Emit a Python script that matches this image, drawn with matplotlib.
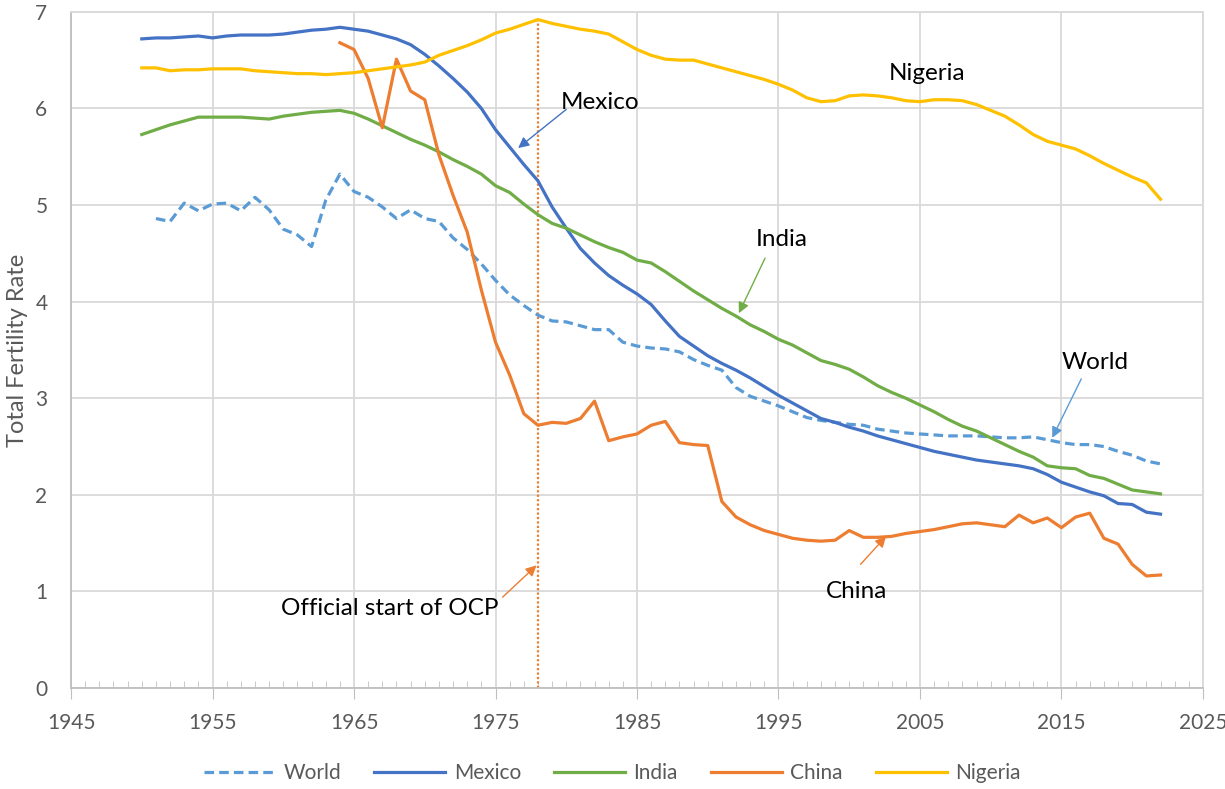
import matplotlib
matplotlib.use("Agg")
import matplotlib.pyplot as plt
from matplotlib.ticker import MultipleLocator

plt.rcParams["font.family"] = ["Lato", "DejaVu Sans"]

# ---- data ----
years = list(range(1950, 2023))

world_years = list(range(1951, 2023))
world = [4.86, 4.83, 5.02, 4.94, 5.01, 5.02, 4.94, 5.08, 4.95, 4.75,
         4.69, 4.57, 5.05, 5.32, 5.14, 5.08, 4.98, 4.86, 4.95, 4.86,
         4.83, 4.66, 4.54, 4.39, 4.22, 4.07, 3.96, 3.86, 3.80, 3.79,
         3.75, 3.71, 3.71, 3.58, 3.54, 3.52, 3.51, 3.48, 3.40, 3.34,
         3.29, 3.11, 3.02, 2.97, 2.92, 2.86, 2.80, 2.77, 2.75, 2.73,
         2.72, 2.68, 2.66, 2.64, 2.63, 2.62, 2.61, 2.61, 2.61, 2.60,
         2.59, 2.59, 2.60, 2.57, 2.54, 2.52, 2.52, 2.50, 2.45, 2.41,
         2.35, 2.32]

mexico = [6.72, 6.73, 6.73, 6.74, 6.75, 6.73, 6.75, 6.76, 6.76, 6.76,
          6.77, 6.79, 6.81, 6.82, 6.84, 6.82, 6.80, 6.76, 6.72, 6.66,
          6.56, 6.44, 6.31, 6.17, 6.00, 5.78, 5.60, 5.42, 5.25, 4.98,
          4.76, 4.55, 4.40, 4.27, 4.17, 4.08, 3.97, 3.80, 3.64, 3.54,
          3.44, 3.36, 3.29, 3.21, 3.12, 3.03, 2.95, 2.87, 2.79, 2.75,
          2.70, 2.66, 2.61, 2.57, 2.53, 2.49, 2.45, 2.42, 2.39, 2.36,
          2.34, 2.32, 2.30, 2.27, 2.21, 2.13, 2.08, 2.03, 1.99, 1.91,
          1.90, 1.82, 1.80]

india = [5.73, 5.78, 5.83, 5.87, 5.91, 5.91, 5.91, 5.91, 5.90, 5.89,
         5.92, 5.94, 5.96, 5.97, 5.98, 5.95, 5.89, 5.82, 5.75, 5.68,
         5.62, 5.55, 5.47, 5.40, 5.32, 5.20, 5.13, 5.01, 4.90, 4.81,
         4.76, 4.69, 4.62, 4.56, 4.51, 4.43, 4.40, 4.31, 4.21, 4.11,
         4.02, 3.93, 3.85, 3.76, 3.69, 3.61, 3.55, 3.47, 3.39, 3.35,
         3.30, 3.22, 3.13, 3.06, 3.00, 2.93, 2.86, 2.78, 2.71, 2.66,
         2.59, 2.52, 2.45, 2.39, 2.30, 2.28, 2.27, 2.20, 2.17, 2.11,
         2.05, 2.03, 2.01]

china_years = list(range(1964, 2023))
china = [6.68, 6.61, 6.31, 5.80, 6.51, 6.18, 6.09, 5.52, 5.10, 4.72,
         4.12, 3.58, 3.24, 2.84, 2.72, 2.75, 2.74, 2.79, 2.97, 2.56,
         2.60, 2.63, 2.72, 2.76, 2.54, 2.52, 2.51, 1.93, 1.77, 1.69,
         1.63, 1.59, 1.55, 1.53, 1.52, 1.53, 1.63, 1.56, 1.56, 1.57,
         1.60, 1.62, 1.64, 1.67, 1.70, 1.71, 1.69, 1.67, 1.79, 1.71,
         1.76, 1.66, 1.77, 1.81, 1.55, 1.49, 1.28, 1.16, 1.17]

nigeria = [6.42, 6.42, 6.39, 6.40, 6.40, 6.41, 6.41, 6.41, 6.39, 6.38,
           6.37, 6.36, 6.36, 6.35, 6.36, 6.37, 6.39, 6.41, 6.43, 6.45,
           6.48, 6.55, 6.60, 6.65, 6.71, 6.78, 6.82, 6.87, 6.92, 6.88,
           6.85, 6.82, 6.80, 6.77, 6.69, 6.61, 6.55, 6.51, 6.50, 6.50,
           6.46, 6.42, 6.38, 6.34, 6.30, 6.25, 6.19, 6.11, 6.07, 6.08,
           6.13, 6.14, 6.13, 6.11, 6.08, 6.07, 6.09, 6.09, 6.08, 6.04,
           5.98, 5.92, 5.83, 5.73, 5.66, 5.62, 5.58, 5.51, 5.43, 5.36,
           5.29, 5.23, 5.06]

ocp_year = 1978
ocp_top = 6.92
x_ticks = list(range(1945, 2026, 10))

C_WORLD = "#5b9bd5"
C_MEX = "#4472c4"
C_IND = "#70ad47"
C_CHN = "#ed7d31"
C_NGA = "#ffc000"
GRID = "#d9d9d9"
TXT = "#595959"

fig = plt.figure(figsize=(12.25, 7.89), dpi=100)
ax = fig.add_axes([0.058, 0.128, 0.924, 0.857])

lw = 2.3
ax.plot(world_years, world, color=C_WORLD, lw=lw, ls=(0, (3, 1.6)), label="World")
ax.plot(years, mexico, color=C_MEX, lw=lw, label="Mexico")
ax.plot(years, india, color=C_IND, lw=lw, label="India")
ax.plot(china_years, china, color=C_CHN, lw=lw, label="China")
ax.plot(years, nigeria, color=C_NGA, lw=lw, label="Nigeria")

# official start of one-child policy
ax.plot([ocp_year, ocp_year], [0, ocp_top], color=C_CHN, lw=1.6, ls=(0, (1, 1)), zorder=1)

ax.set_xlim(1945, 2025)
ax.set_ylim(0, 7)
ax.set_xticks(x_ticks)
ax.xaxis.set_minor_locator(MultipleLocator(1))
ax.yaxis.set_major_locator(MultipleLocator(1))
ax.grid(True, which="major", color=GRID, lw=1.3)
ax.set_axisbelow(True)

for s in ("top", "right"):
    ax.spines[s].set_color(GRID)
    ax.spines[s].set_linewidth(1.3)
for s in ("left", "bottom"):
    ax.spines[s].set_color("#bfbfbf")
    ax.spines[s].set_linewidth(1.3)

ax.tick_params(axis="x", which="major", direction="out", length=8, color="#bfbfbf",
               labelsize=15, labelcolor=TXT, pad=10)
ax.tick_params(axis="x", which="minor", direction="in", length=5, color="#bfbfbf")
ax.tick_params(axis="y", length=0, labelsize=15, labelcolor=TXT, pad=17)
ax.set_ylabel("Total Fertility Rate", fontsize=17, color=TXT, labelpad=5)

# annotations
def note(text, xy_text, tip=None, tail=None, color="black"):
    ax.text(xy_text[0], xy_text[1], text, fontsize=17.5, color="black",
            ha="center", va="center")
    if tip is not None:
        ax.annotate("", xy=tip, xytext=tail,
                    arrowprops=dict(arrowstyle="-|>", color=color, lw=1.0,
                                    mutation_scale=16, shrinkA=0, shrinkB=0))

note("Mexico", (1982.4, 6.06), tip=(1976.6, 5.59), tail=(1980.0, 5.99), color=C_MEX)
note("Nigeria", (2005.5, 6.36))
note("India", (1995.2, 4.64), tip=(1992.2, 3.88), tail=(1994.05, 4.45), color=C_IND)
note("World", (2017.4, 3.37), tip=(2014.35, 2.59), tail=(2016.4, 3.20), color=C_WORLD)
note("China", (2000.5, 1.00), tip=(2002.6, 1.57), tail=(2000.8, 1.28), color=C_CHN)
note("Official start of OCP", (1967.5, 0.82), tip=(1977.9, 1.27), tail=(1975.5, 0.94), color=C_CHN)

handles, labels = ax.get_legend_handles_labels()
leg = fig.legend(handles, labels, loc="center", bbox_to_anchor=(0.5, 0.02), ncol=5,
                 frameon=False, fontsize=15, handlelength=3.4, handletextpad=0.4,
                 columnspacing=1.6)
for t in leg.get_texts():
    t.set_color(TXT)

fig.savefig("out.png", dpi=100)
